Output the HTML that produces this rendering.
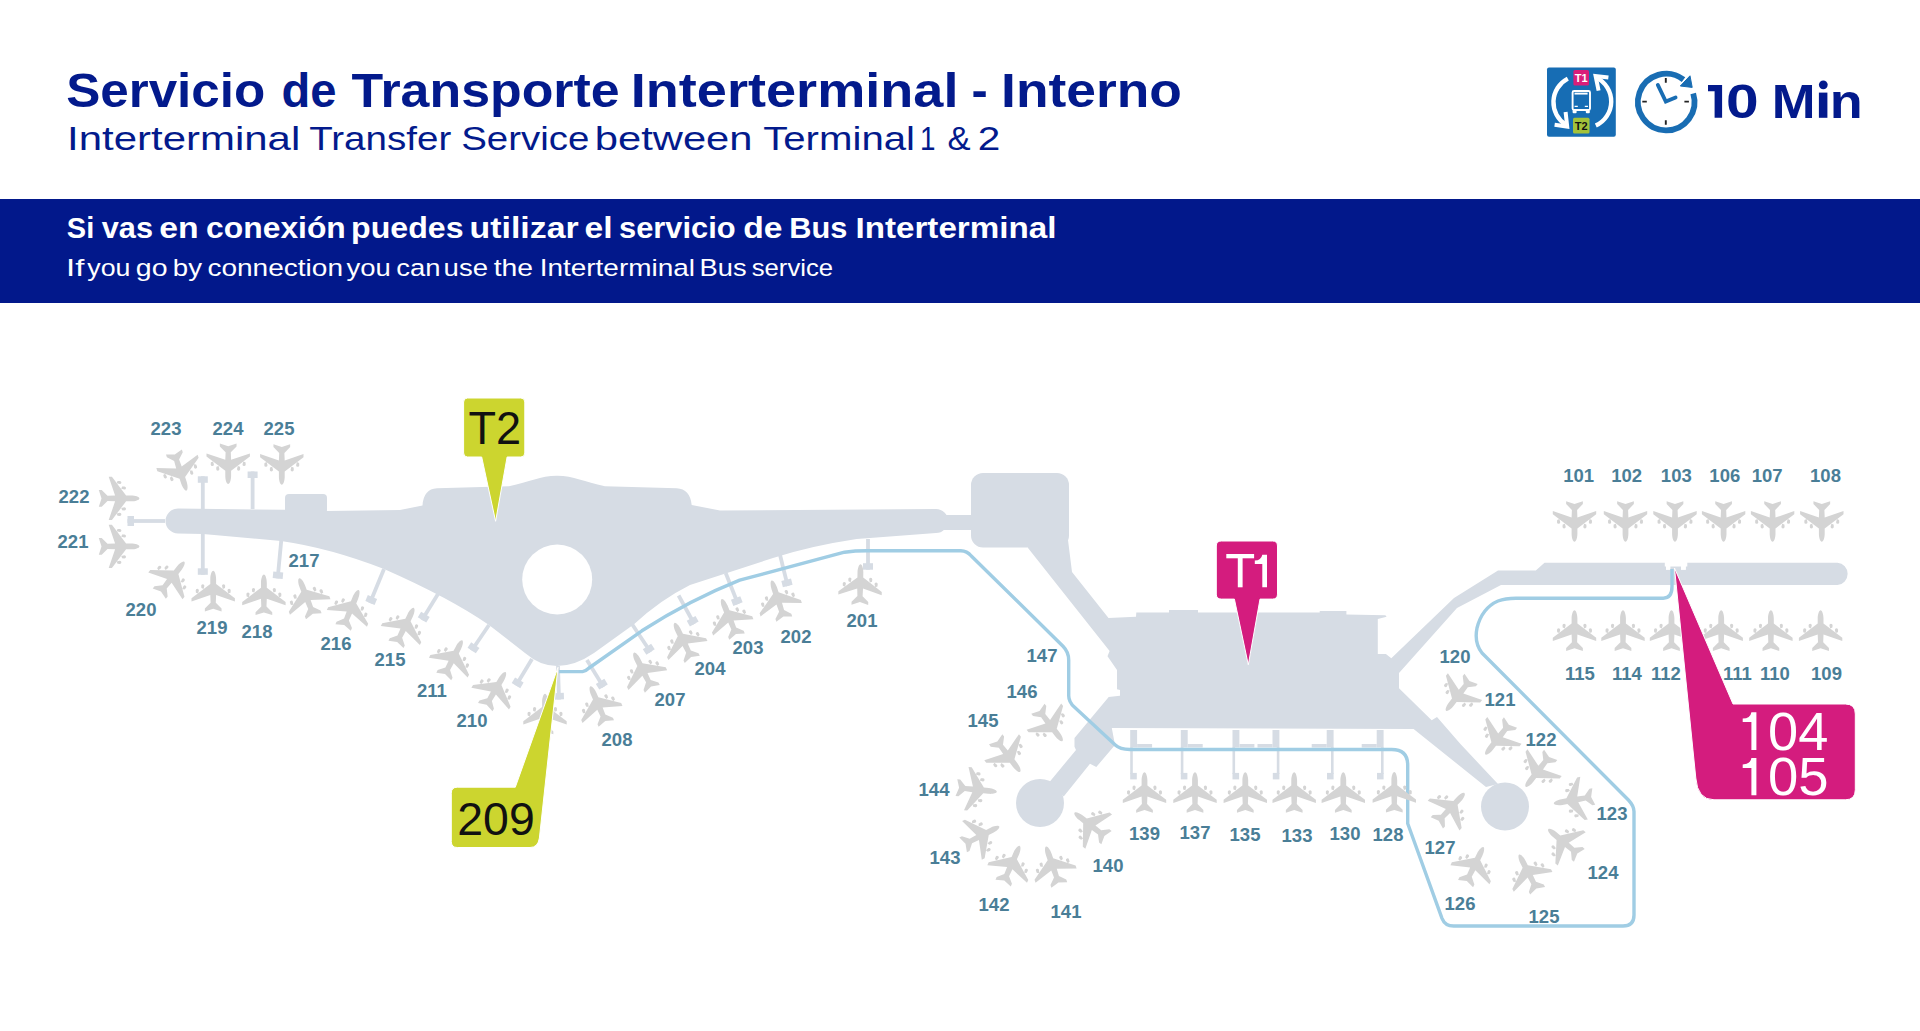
<!DOCTYPE html>
<html><head><meta charset="utf-8">
<style>
html,body{margin:0;padding:0;background:#fff;width:1920px;height:1031px;overflow:hidden}
body{position:relative;font-family:"Liberation Sans",sans-serif}
svg{position:absolute;left:0;top:0}
</style></head><body>
<div style="position:absolute;left:0;top:199px;width:1920px;height:104px;background:#02188b"></div>
<svg width="1920" height="310" viewBox="0 0 1920 310" style="top:0;z-index:2">
<g font-family="Liberation Sans">
<text x="66.15" y="107" font-size="47.5" font-weight="bold" fill="#031a8c" textLength="199.11" lengthAdjust="spacingAndGlyphs">Servicio</text>
<text x="281.53" y="107" font-size="47.5" font-weight="bold" fill="#031a8c" textLength="55.01" lengthAdjust="spacingAndGlyphs">de</text>
<text x="351.62" y="107" font-size="47.5" font-weight="bold" fill="#031a8c" textLength="268.07" lengthAdjust="spacingAndGlyphs">Transporte</text>
<text x="630.78" y="107" font-size="47.5" font-weight="bold" fill="#031a8c" textLength="327.71" lengthAdjust="spacingAndGlyphs">Interterminal</text>
<text x="971.49" y="107" font-size="47.5" font-weight="bold" fill="#031a8c" textLength="16.21" lengthAdjust="spacingAndGlyphs">-</text>
<text x="1001.13" y="107" font-size="47.5" font-weight="bold" fill="#031a8c" textLength="180.81" lengthAdjust="spacingAndGlyphs">Interno</text>
<text x="67.07" y="150" font-size="33.5" fill="#031a8c" textLength="233.18" lengthAdjust="spacingAndGlyphs">Interterminal</text>
<text x="309.17" y="150" font-size="33.5" fill="#031a8c" textLength="142.06" lengthAdjust="spacingAndGlyphs">Transfer</text>
<text x="461.15" y="150" font-size="33.5" fill="#031a8c" textLength="128.3" lengthAdjust="spacingAndGlyphs">Service</text>
<text x="594.77" y="150" font-size="33.5" fill="#031a8c" textLength="157.75" lengthAdjust="spacingAndGlyphs">between</text>
<text x="763.17" y="150" font-size="33.5" fill="#031a8c" textLength="151.87" lengthAdjust="spacingAndGlyphs">Terminal</text>
<text x="919.97" y="150" font-size="33.5" fill="#031a8c" textLength="15.45" lengthAdjust="spacingAndGlyphs">1</text>
<text x="947.44" y="150" font-size="33.5" fill="#031a8c" textLength="23.08" lengthAdjust="spacingAndGlyphs">&amp;</text>
<text x="977.79" y="150" font-size="33.5" fill="#031a8c" textLength="22.54" lengthAdjust="spacingAndGlyphs">2</text>
<text x="66.88" y="237.5" font-size="28.8" font-weight="bold" fill="#fff" textLength="27.43" lengthAdjust="spacingAndGlyphs">Si</text>
<text x="101.73" y="237.5" font-size="28.8" font-weight="bold" fill="#fff" textLength="51.24" lengthAdjust="spacingAndGlyphs">vas</text>
<text x="159.31" y="237.5" font-size="28.8" font-weight="bold" fill="#fff" textLength="39.4" lengthAdjust="spacingAndGlyphs">en</text>
<text x="206.13" y="237.5" font-size="28.8" font-weight="bold" fill="#fff" textLength="139.7" lengthAdjust="spacingAndGlyphs">conexión</text>
<text x="351.06" y="237.5" font-size="28.8" font-weight="bold" fill="#fff" textLength="112.47" lengthAdjust="spacingAndGlyphs">puedes</text>
<text x="469.57" y="237.5" font-size="28.8" font-weight="bold" fill="#fff" textLength="109.07" lengthAdjust="spacingAndGlyphs">utilizar</text>
<text x="584.51" y="237.5" font-size="28.8" font-weight="bold" fill="#fff" textLength="28.04" lengthAdjust="spacingAndGlyphs">el</text>
<text x="619.01" y="237.5" font-size="28.8" font-weight="bold" fill="#fff" textLength="116.73" lengthAdjust="spacingAndGlyphs">servicio</text>
<text x="743.31" y="237.5" font-size="28.8" font-weight="bold" fill="#fff" textLength="39.25" lengthAdjust="spacingAndGlyphs">de</text>
<text x="789.29" y="237.5" font-size="28.8" font-weight="bold" fill="#fff" textLength="58.15" lengthAdjust="spacingAndGlyphs">Bus</text>
<text x="855.44" y="237.5" font-size="28.8" font-weight="bold" fill="#fff" textLength="201.03" lengthAdjust="spacingAndGlyphs">Interterminal</text>
<text x="66.09" y="276.3" font-size="23.7" fill="#fff" textLength="18.32" lengthAdjust="spacingAndGlyphs">If</text>
<text x="87.34" y="276.3" font-size="23.7" fill="#fff" textLength="43.11" lengthAdjust="spacingAndGlyphs">you</text>
<text x="135.84" y="276.3" font-size="23.7" fill="#fff" textLength="31.71" lengthAdjust="spacingAndGlyphs">go</text>
<text x="172.83" y="276.3" font-size="23.7" fill="#fff" textLength="29.16" lengthAdjust="spacingAndGlyphs">by</text>
<text x="207.44" y="276.3" font-size="23.7" fill="#fff" textLength="135.56" lengthAdjust="spacingAndGlyphs">connection</text>
<text x="346.53" y="276.3" font-size="23.7" fill="#fff" textLength="44.27" lengthAdjust="spacingAndGlyphs">you</text>
<text x="396.26" y="276.3" font-size="23.7" fill="#fff" textLength="44.2" lengthAdjust="spacingAndGlyphs">can</text>
<text x="443.64" y="276.3" font-size="23.7" fill="#fff" textLength="44.38" lengthAdjust="spacingAndGlyphs">use</text>
<text x="493.71" y="276.3" font-size="23.7" fill="#fff" textLength="39.43" lengthAdjust="spacingAndGlyphs">the</text>
<text x="539.7" y="276.3" font-size="23.7" fill="#fff" textLength="155.29" lengthAdjust="spacingAndGlyphs">Interterminal</text>
<text x="699.54" y="276.3" font-size="23.7" fill="#fff" textLength="47.06" lengthAdjust="spacingAndGlyphs">Bus</text>
<text x="751.72" y="276.3" font-size="23.7" fill="#fff" textLength="81.44" lengthAdjust="spacingAndGlyphs">service</text>
<text x="1725.95" y="117.8" font-size="47.5" font-weight="bold" fill="#031a8c" textLength="32.67" lengthAdjust="spacingAndGlyphs">0</text>
<text x="1771.68" y="117.8" font-size="47.5" font-weight="bold" fill="#031a8c" textLength="43.81" lengthAdjust="spacingAndGlyphs">M</text>
<text x="1829.71" y="117.8" font-size="47.5" font-weight="bold" fill="#031a8c" textLength="32.98" lengthAdjust="spacingAndGlyphs">n</text>
</g>
<!-- box icon -->
<rect x="1547" y="67.4" width="68.8" height="69.3" rx="2" fill="#176db4"/>
<g fill="none" stroke="#fff" stroke-width="4.4">
<path d="M1567.8,78.6 A26.6,26.6 0 0 0 1566,124.8"/>
<path d="M1595.8,125.6 A26.6,26.6 0 0 0 1596.4,77.6"/>
</g>
<g fill="none" stroke="#fff" stroke-width="4" stroke-linejoin="miter" stroke-miterlimit="10">
<path d="M1554.6,124.8 L1567.2,126.6 L1565.6,112"/>
<path d="M1608.4,77.6 L1595.6,76 L1598.6,90.6"/>
</g>
<rect x="1573.4" y="69.9" width="15.6" height="15.7" rx="1.5" fill="#d91e79"/>
<rect x="1573" y="117.7" width="16.5" height="15.7" rx="1.5" fill="#a3c23a"/>
<g font-family="Liberation Sans" font-weight="bold" font-size="11" text-anchor="middle">
<text x="1581.2" y="81.8" fill="#fff">T1</text>
<text x="1581.2" y="129.8" fill="#111">T2</text>
</g>
<g fill="none" stroke="#fff" stroke-width="1.9">
<rect x="1572.6" y="91" width="17.4" height="19" rx="1.5"/>
<path d="M1574.5,93.6 H1587.6"/>
</g>
<g fill="#fff"><rect x="1572.6" y="110" width="4" height="3.2" rx="1"/><rect x="1585.8" y="110" width="4" height="3.2" rx="1"/></g>
<g stroke="#fff" stroke-width="1.4"><path d="M1574.6,106.4 H1577.8 M1584.8,106.4 H1588"/></g>
<!-- clock -->
<g fill="none" stroke="#196db3" stroke-width="5.8">
<path d="M1693.2,93.5 A28.3,28.3 0 1 1 1683.5,79.6"/>
<path d="M1657.8,84.9 L1665.8,101.6 L1675.6,97.4" stroke-width="3.8" stroke-linecap="round" stroke-linejoin="miter"/>
</g>
<path d="M1680.3,86 L1690,75.8 L1692.2,87.4Z" fill="#196db3" stroke="#196db3" stroke-width="1" stroke-linejoin="round"/>
<g stroke="#222" stroke-width="1.9">
<path d="M1665.8,78.1 V82.7 M1665.8,120.2 V124.7 M1684.4,101.6 H1688.9 M1642.3,101.6 H1646.8"/>
</g>

<path id="one" d="M1714.6,117.8 V91.2 H1708 V85 H1722.1 V117.8Z" fill="#031a8c"/>
<g id="idot" fill="#031a8c"><rect x="1818.9" y="92.6" width="8.5" height="25.2"/><circle cx="1823.3" cy="84.8" r="4.4"/></g>

</svg>
<svg width="1920" height="1031" viewBox="0 0 1920 1031" style="top:0">
<defs><g id="pl">
<path d="M0,-20.3 C1.6,-20.3 2.9,-16 2.9,-12 L2.9,-7 L21.7,7.2 L21.7,10.4 L2.9,4 L2.6,11.6 L8.35,17.4 L8.35,20.3 L0,17.6 L-8.35,20.3 L-8.35,17.4 L-2.6,11.6 L-2.9,4 L-21.7,10.4 L-21.7,7.2 L-2.9,-7 L-2.9,-12 C-2.9,-16 -1.6,-20.3 0,-20.3Z"/>
<path d="M8.8,-5.3 A1.6,1.6 0 0 1 12,-5.3 L11.8,-3 L9.6,-2.2Z M14.3,-0.7 A1.6,1.6 0 0 1 17.5,-0.7 L17.3,1.6 L15.1,2.4Z M-8.8,-5.3 A1.6,1.6 0 0 0 -12,-5.3 L-11.8,-3 L-9.6,-2.2Z M-14.3,-0.7 A1.6,1.6 0 0 0 -17.5,-0.7 L-17.3,1.6 L-15.1,2.4Z"/>
</g></defs>
<g fill="#d6dce4">
<path d="M178,508.5 L284,509.8 L326.6,511 L400,510 L422.5,505.5 Q423.5,489 437,488.3 L509,486.3 C530,482 540,475.8 557,475.8 C574,475.8 584,482 605,486.3 L676.7,488.3 Q690,489 691.7,505 L720,510.5 L936,509 A12,12 0 0 1 936,533 L856.7,539 Q810,546 773,558 L690,585 Q660,600 634,624.3 L594,653 Q575,666 557,666 Q540,666 525,653 L489,625 Q450,598 384,569 Q330,548 281,541 L203,534 L178,533.5 A12.5,12.5 0 0 1 178,508.5Z"/>
<circle cx="557.2" cy="579.5" r="35" fill="#fff"/>
<rect x="285" y="494" width="42" height="20" rx="4"/>
<rect x="940" y="515" width="35" height="15"/>
<rect x="971" y="473" width="98" height="74.5" rx="12"/>
<path d="M1028,540 L1068,540 L1072,572 L1108.5,618 L1136,616.8 L1136.3,612.5 L1169,612.5 L1169,610 L1198,610 L1198,612.5 L1319.7,612.5 L1319.7,611 L1346.4,611 L1346.4,614.6 L1385.4,615.2 L1386.6,616.8 L1377.8,619 L1377.8,654 L1385.9,654 L1391.3,658.3 L1454,598 L1498,570.5 L1535.8,570.5 L1544.5,562.7 L1837.5,562.7 A11.2,11.2 0 0 1 1837.5,585 L1501,585 L1457,608 L1399,673 L1399,688.2 L1431.7,720.2 L1437,717 L1460,743.6 L1498,784 L1486,787 L1413.6,729 L1111.8,728 L1115,745 L1096.3,767 L1090,763.8 L1063.7,796.5 L1049.7,781.7 L1076,750 L1074.5,746.8 L1074.5,738 L1108.7,697 L1120,695.7 L1120,690 L1117,689.3 L1117,670 L1107.5,656.3 L1109.6,651 L1028,548 Z"/>
<circle cx="1040" cy="803" r="24"/>
<circle cx="1505" cy="806.5" r="24"/>

</g>
<g fill="#d6dce4">
<g transform="translate(165,521) rotate(90.0)"><rect x="-1.9" y="0" width="3.8" height="37.5"/><rect x="-5" y="31.0" width="10" height="6.5"/></g>
<g transform="translate(202.8,509) rotate(-180.0)"><rect x="-1.9" y="0" width="3.8" height="32.7"/><rect x="-5" y="26.2" width="10" height="6.5"/></g>
<g transform="translate(252.6,509) rotate(-180.0)"><rect x="-1.9" y="0" width="3.8" height="37.5"/><rect x="-5" y="31.0" width="10" height="6.5"/></g>
<g transform="translate(202.8,533) rotate(-0.0)"><rect x="-1.9" y="0" width="3.8" height="41.8"/><rect x="-5" y="35.3" width="10" height="6.5"/></g>
<g transform="translate(281.3,540) rotate(5.4)"><rect x="-1.9" y="0" width="3.8" height="38.6"/><rect x="-5" y="32.1" width="10" height="6.5"/></g>
<g transform="translate(384,569) rotate(22.4)"><rect x="-1.9" y="0" width="3.8" height="36.8"/><rect x="-5" y="30.3" width="10" height="6.5"/></g>
<g transform="translate(438,594) rotate(31.6)"><rect x="-1.9" y="0" width="3.8" height="30.5"/><rect x="-5" y="24.0" width="10" height="6.5"/></g>
<g transform="translate(489,625) rotate(34.2)"><rect x="-1.9" y="0" width="3.8" height="30.8"/><rect x="-5" y="24.3" width="10" height="6.5"/></g>
<g transform="translate(532,659) rotate(31.1)"><rect x="-1.9" y="0" width="3.8" height="31.0"/><rect x="-5" y="24.5" width="10" height="6.5"/></g>
<g transform="translate(558,666) rotate(-1.7)"><rect x="-1.9" y="0" width="3.8" height="33.5"/><rect x="-5" y="27.0" width="10" height="6.5"/></g>
<g transform="translate(586.9,660) rotate(-31.6)"><rect x="-1.9" y="0" width="3.8" height="31.7"/><rect x="-5" y="25.2" width="10" height="6.5"/></g>
<g transform="translate(632.3,624.5) rotate(-33.6)"><rect x="-1.9" y="0" width="3.8" height="33.0"/><rect x="-5" y="26.5" width="10" height="6.5"/></g>
<g transform="translate(678.6,595.5) rotate(-28.8)"><rect x="-1.9" y="0" width="3.8" height="32.5"/><rect x="-5" y="26.0" width="10" height="6.5"/></g>
<g transform="translate(725.7,573) rotate(-21.6)"><rect x="-1.9" y="0" width="3.8" height="33.4"/><rect x="-5" y="26.9" width="10" height="6.5"/></g>
<g transform="translate(779.9,554.5) rotate(-13.9)"><rect x="-1.9" y="0" width="3.8" height="32.5"/><rect x="-5" y="26.0" width="10" height="6.5"/></g>
<g transform="translate(868,539) rotate(0.0)"><rect x="-1.9" y="0" width="3.8" height="30.7"/><rect x="-5" y="24.2" width="10" height="6.5"/></g>
<rect x="1130.2" y="730" width="6.9" height="17.5"/>
<rect x="1137.1000000000001" y="744" width="15" height="3.5"/>
<rect x="1130.2" y="747" width="2.6" height="27"/>
<rect x="1130.2" y="772.9" width="6.6" height="6.5"/>
<rect x="1180.8" y="730" width="6.9" height="17.5"/>
<rect x="1187.7" y="744" width="15" height="3.5"/>
<rect x="1180.8" y="747" width="2.6" height="27"/>
<rect x="1180.8" y="772.9" width="6.6" height="6.5"/>
<rect x="1232.5" y="730" width="6.9" height="17.5"/>
<rect x="1239.4" y="744" width="15" height="3.5"/>
<rect x="1232.5" y="747" width="2.6" height="27"/>
<rect x="1232.5" y="772.9" width="6.6" height="6.5"/>
<rect x="1272.5" y="730" width="6.9" height="17.5"/>
<rect x="1257.5" y="744" width="15" height="3.5"/>
<rect x="1276.8" y="747" width="2.6" height="27"/>
<rect x="1272.8" y="772.9" width="6.6" height="6.5"/>
<rect x="1326.7" y="730" width="6.9" height="17.5"/>
<rect x="1311.7" y="744" width="15" height="3.5"/>
<rect x="1331.0" y="747" width="2.6" height="27"/>
<rect x="1327.0" y="772.9" width="6.6" height="6.5"/>
<rect x="1376.7" y="730" width="6.9" height="17.5"/>
<rect x="1361.7" y="744" width="15" height="3.5"/>
<rect x="1381.0" y="747" width="2.6" height="27"/>
<rect x="1377.0" y="772.9" width="6.6" height="6.5"/>
</g>
<rect x="1664.8" y="561" width="22.5" height="5.5" fill="#fff"/>
<rect x="1666" y="565" width="4.4" height="4.9" fill="#fff"/>
<rect x="1681" y="565" width="4.9" height="4.9" fill="#fff"/>
<path fill="none" stroke="#a0cde4" stroke-width="3.4" stroke-linejoin="round" d="M559,671.6 L582.5,671.6 Q586,671 589,668 L641.9,630.8 Q690,600 739.7,580.2 L844.5,552.2 Q855,550.8 867,550.8 L960.8,550.8 Q967,551 971.3,556 L1063,646.2 Q1068.7,652 1068.7,660 L1068.7,695.7 Q1068.7,702 1074.6,707.3 L1115.3,745.1 Q1120,749.5 1129.8,749.5 L1391.7,749.5 Q1407.7,749.5 1407.7,765 L1407.7,823.5 L1442,918.3 Q1445,926 1453.7,926 L1623,926 Q1634,926 1634,915 L1634,811.6 Q1634,806 1628.4,800 L1482,653 Q1474,643 1477,628 Q1482,608 1498,601 Q1505,598.2 1516,598.2 L1663.3,598.2 Q1672,598.2 1672,586.6 L1672,569"/>

<g fill="#d4d4d4">
<use href="#pl" transform="translate(119.1,498.4) rotate(90)"/>
<use href="#pl" transform="translate(119.1,546.4) rotate(90)"/>
<use href="#pl" transform="translate(180.2,471.3) rotate(162)"/>
<use href="#pl" transform="translate(228.2,463.8) rotate(180)"/>
<use href="#pl" transform="translate(281.8,464.5) rotate(180)"/>
<use href="#pl" transform="translate(171.8,577.7) rotate(38)"/>
<use href="#pl" transform="translate(213.2,591.1) rotate(0)"/>
<use href="#pl" transform="translate(263.9,594.8) rotate(0)"/>
<use href="#pl" transform="translate(306.5,597.2) rotate(-21)"/>
<use href="#pl" transform="translate(350.9,608.8) rotate(22.5)"/>
<use href="#pl" transform="translate(404.9,626.2) rotate(26)"/>
<use href="#pl" transform="translate(453.0,658.4) rotate(27)"/>
<use href="#pl" transform="translate(495.4,689.6) rotate(30)"/>
<use href="#pl" transform="translate(545,714) rotate(0)"/>
<use href="#pl" transform="translate(598.4,704.9) rotate(-23)"/>
<use href="#pl" transform="translate(643.1,670.8) rotate(-27)"/>
<use href="#pl" transform="translate(683.4,641.2) rotate(-26)"/>
<use href="#pl" transform="translate(729.4,617.8) rotate(-22)"/>
<use href="#pl" transform="translate(778.0,599.8) rotate(-18)"/>
<use href="#pl" transform="translate(860.2,584.5) rotate(1)"/>
<use href="#pl" transform="translate(1050.2,724.9) rotate(142.7)"/>
<use href="#pl" transform="translate(1007.9,755.5) rotate(143)"/>
<use href="#pl" transform="translate(976.6,789.7) rotate(96)"/>
<use href="#pl" transform="translate(981.2,835.7) rotate(63)"/>
<use href="#pl" transform="translate(1011.4,864.5) rotate(24)"/>
<use href="#pl" transform="translate(1052.7,865.8) rotate(-19)"/>
<use href="#pl" transform="translate(1090.5,825.2) rotate(-52)"/>
<use href="#pl" transform="translate(1144.5,792.5) rotate(0)"/>
<use href="#pl" transform="translate(1195,792.5) rotate(0)"/>
<use href="#pl" transform="translate(1245.3,792.5) rotate(0)"/>
<use href="#pl" transform="translate(1294.2,792.5) rotate(0)"/>
<use href="#pl" transform="translate(1343.3,792.5) rotate(0)"/>
<use href="#pl" transform="translate(1394.3,792.3) rotate(0)"/>
<use href="#pl" transform="translate(1450.7,808.0) rotate(43)"/>
<use href="#pl" transform="translate(1474.5,865.3) rotate(26)"/>
<use href="#pl" transform="translate(1528.4,872.7) rotate(-27)"/>
<use href="#pl" transform="translate(1563.8,842.3) rotate(-50)"/>
<use href="#pl" transform="translate(1573.8,800.0) rotate(-100)"/>
<use href="#pl" transform="translate(1538.2,770.8) rotate(218)"/>
<use href="#pl" transform="translate(1498.0,738.5) rotate(218)"/>
<use href="#pl" transform="translate(1458.6,694.8) rotate(218)"/>
<use href="#pl" transform="translate(1574.5,521.5) rotate(180)"/>
<use href="#pl" transform="translate(1625.5,521.5) rotate(180)"/>
<use href="#pl" transform="translate(1675,521.5) rotate(180)"/>
<use href="#pl" transform="translate(1723.6,521.5) rotate(180)"/>
<use href="#pl" transform="translate(1772.6,521.5) rotate(180)"/>
<use href="#pl" transform="translate(1821.8,521.5) rotate(180)"/>
<use href="#pl" transform="translate(1574.5,630.6) rotate(0)"/>
<use href="#pl" transform="translate(1623,630.6) rotate(0)"/>
<use href="#pl" transform="translate(1671.5,630.6) rotate(0)"/>
<use href="#pl" transform="translate(1721.2,630.6) rotate(0)"/>
<use href="#pl" transform="translate(1770.9,630.6) rotate(0)"/>
<use href="#pl" transform="translate(1820.6,630.6) rotate(0)"/>
</g>
<g fill="#4a7e97" font-family="Liberation Sans" font-weight="bold" font-size="18.5" text-anchor="middle">
<text x="166" y="434.7">223</text>
<text x="228" y="434.7">224</text>
<text x="279" y="434.7">225</text>
<text x="74" y="502.7">222</text>
<text x="73" y="547.7">221</text>
<text x="141" y="615.7">220</text>
<text x="212" y="633.7">219</text>
<text x="257" y="637.7">218</text>
<text x="304" y="566.7">217</text>
<text x="336" y="649.7">216</text>
<text x="390" y="665.7">215</text>
<text x="432" y="696.7">211</text>
<text x="472" y="726.7">210</text>
<text x="617" y="745.7">208</text>
<text x="670" y="705.7">207</text>
<text x="710" y="674.7">204</text>
<text x="748" y="653.7">203</text>
<text x="796" y="642.7">202</text>
<text x="862" y="626.7">201</text>
<text x="1042" y="661.7">147</text>
<text x="1022" y="697.7">146</text>
<text x="983" y="726.7">145</text>
<text x="934" y="795.7">144</text>
<text x="945" y="863.7">143</text>
<text x="994" y="910.7">142</text>
<text x="1066" y="917.7">141</text>
<text x="1108" y="871.7">140</text>
<text x="1144.5" y="840.2">139</text>
<text x="1195" y="839.2">137</text>
<text x="1245" y="840.7">135</text>
<text x="1297" y="841.7">133</text>
<text x="1345" y="840.2">130</text>
<text x="1388" y="841.0">128</text>
<text x="1440" y="853.7">127</text>
<text x="1460" y="909.7">126</text>
<text x="1544" y="922.7">125</text>
<text x="1603" y="878.7">124</text>
<text x="1612" y="819.7">123</text>
<text x="1541" y="745.7">122</text>
<text x="1500" y="705.7">121</text>
<text x="1455" y="662.7">120</text>
<text x="1578.7" y="482.2">101</text>
<text x="1626.6" y="482.2">102</text>
<text x="1676.3" y="482.2">103</text>
<text x="1724.8" y="482.2">106</text>
<text x="1767.2" y="482.2">107</text>
<text x="1825.5" y="482.2">108</text>
<text x="1580" y="679.7">115</text>
<text x="1627" y="679.7">114</text>
<text x="1666" y="679.7">112</text>
<text x="1737.5" y="679.7">111</text>
<text x="1775" y="679.7">110</text>
<text x="1826.5" y="679.7">109</text>
</g>
<g fill="#ccd52f" stroke="#fff" stroke-width="1">
<path d="M467.6,398 H520.8 Q524.8,398 524.8,402 V453 Q524.8,457 520.8,457 H507.1 L495.6,521.3 L481.7,457 H467.6 Q463.6,457 463.6,453 V402 Q463.6,398 467.6,398Z"/>
<path d="M457.3,787.2 H515.3 L558,667.3 L539.4,838 Q538,847.5 530,847.5 H457.3 Q451.3,847.5 451.3,841.5 V793.2 Q451.3,787.2 457.3,787.2Z"/>
</g>
<g fill="#d41c7e" stroke="#fff" stroke-width="1">
<path d="M1221.3,541 H1272.5 Q1277.5,541 1277.5,546 V594.1 Q1277.5,599.1 1272.5,599.1 H1260 L1248.3,664.8 L1234.4,599.1 H1221.3 Q1216.3,599.1 1216.3,594.1 V546 Q1216.3,541 1221.3,541Z"/>
<path d="M1674.5,568 L1733,704 H1845.3 Q1855.3,704 1855.3,714 V789.8 Q1855.3,799.8 1845.3,799.8 H1714 Q1697.5,799.8 1695.8,778 Z"/>
</g>
<g font-family="Liberation Sans">
<text x="468.4" y="443.7" font-size="47" fill="#111" textLength="52.6" lengthAdjust="spacingAndGlyphs">T2</text>
<text x="457.3" y="835.3" font-size="46" fill="#111" textLength="77.4" lengthAdjust="spacingAndGlyphs">209</text>
<text x="1768.05" y="749.9" font-size="54" fill="#fff" textLength="60.3" lengthAdjust="spacingAndGlyphs">04</text>
<text x="1768.05" y="795.3" font-size="54" fill="#fff" textLength="60.6" lengthAdjust="spacingAndGlyphs">05</text>
</g>
<g fill="#fff">
<rect x="1226.3" y="554" width="27.8" height="4.3"/><rect x="1237.8" y="554" width="4.8" height="33.3"/>
<path d="M1262.3,554.7 H1267 V587.3 H1262.3 V563.9 H1254.8 V560.6 Q1261.2,560.4 1262.3,554.7Z"/>
<path d="M1751.4,712.2 H1756.4 V749.9 H1751.4 V722 H1742.7 V718.6 Q1750.4,718.4 1751.4,712.2Z"/>
<path d="M1751.4,758.1 H1756.4 V795.3 H1751.4 V767.9 H1742.7 V764.5 Q1750.4,764.3 1751.4,758.1Z"/>
</g>

</svg>
</body></html>
